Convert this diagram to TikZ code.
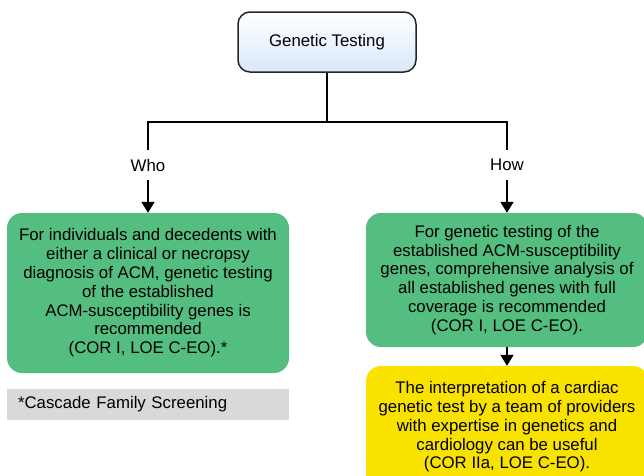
\documentclass[tikz,border=0pt]{standalone}
\usepackage{fontspec}
\setmainfont{Liberation Sans}
\usetikzlibrary{arrows.meta}
\definecolor{recgreen}{RGB}{84,190,128}
\definecolor{recyellow}{RGB}{250,226,0}
\definecolor{topblue}{RGB}{218,232,250}
\definecolor{notegray}{RGB}{217,217,217}

\begin{document}
\begin{tikzpicture}[x=1pt,y=-1pt,
	every node/.style={font=\fontsize{16.8}{18.8}\selectfont},
	titlebox/.style={draw=black!85,line width=1.5pt,rounded corners=12pt,top color=white,bottom color=topblue,minimum width=178pt,minimum height=60pt},
	recbox/.style={fill=recgreen,rounded corners=15pt,minimum width=282pt,align=center},
	notebox/.style={fill=notegray,minimum width=282pt,minimum height=31pt,text width=260pt,inner xsep=11pt,align=left},
	question/.style={inner sep=0pt,minimum height=29pt},
	link/.style={line width=1.6pt},
	arrow/.style={link,-{Triangle[length=11pt,width=13pt]}}]
	\useasboundingbox (0,0) rectangle (644,475);
	\clip (0,0) rectangle (644,475);
	\node[titlebox] (test) at (327,42) {Genetic Testing};
	\coordinate (split) at (327,122);
	\node[question] (who) at (148,165) {Who};
	\node[question] (how) at (507,165) {How};
	\node[recbox,minimum height=160pt] (whobox) at (148,293) {For individuals and decedents with\\either a clinical or necropsy\\diagnosis of ACM, genetic testing\\of the established\\ACM-susceptibility genes is\\recommended\\(COR I, LOE C-EO).*};
	\node[notebox] (note) at (148,404.5) {*Cascade Family Screening};
	\node[recbox,minimum height=134pt] (howbox) at (507,280) {For genetic testing of the\\established ACM-susceptibility\\genes, comprehensive analysis of\\all established genes with full\\coverage is recommended\\(COR I, LOE C-EO).};
	\node[recbox,fill=recyellow,minimum height=122pt] (usebox) at (507,427) {The interpretation of a cardiac\\genetic test by a team of providers\\with expertise in genetics and\\cardiology can be useful\\(COR IIa, LOE C-EO).};
	\draw[link] (test) -- (split);
	\draw[link] (who.north) |- (split) -| (how.north);
	\draw[arrow] (who) -- (whobox);
	\draw[arrow] (how) -- (howbox);
	\draw[arrow] (howbox) -- (usebox);
\end{tikzpicture}
\end{document}
